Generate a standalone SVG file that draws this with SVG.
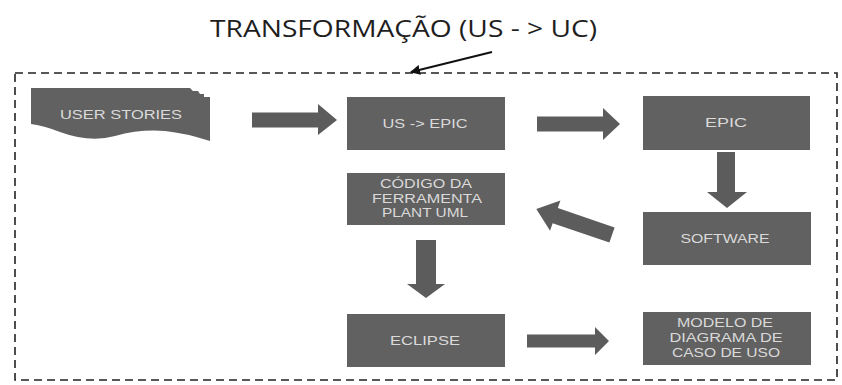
<svg xmlns="http://www.w3.org/2000/svg" width="842" height="385" viewBox="0 0 842 385">
  <style>
    .box { fill: #616161; }
    .blk { fill: #5c5c5c; }
    .lbl { font-family: "Liberation Sans", Arial, sans-serif; font-size: 12px; fill: #dadada; text-anchor: middle; }
    .title { font-family: "Open Sans", "Liberation Sans", sans-serif; font-size: 24px; fill: #1e1e1e; }
  </style>
  <defs>
    <marker id="ah" viewBox="0 0 10 10" refX="9" refY="5" markerWidth="10" markerHeight="10" markerUnits="userSpaceOnUse" orient="auto">
      <path d="M0,0 L10,5 L0,10 Z" fill="#111"/>
    </marker>
  </defs>
  <rect width="842" height="385" fill="#ffffff"/>

  <g id="frame">
    <rect x="15" y="73" width="822" height="307" fill="none" stroke="#222" stroke-width="1.6" stroke-dasharray="8,5"/>
  </g>

  <g id="title">
    <text class="title" x="210" y="37" textLength="387" lengthAdjust="spacingAndGlyphs">TRANSFORMAÇÃO (US - &gt; UC)</text>
    <line x1="492" y1="52" x2="411" y2="72" stroke="#111" stroke-width="2" marker-end="url(#ah)"/>
  </g>

  <g id="user-stories">
    <path class="box" d="M31,88 H190 L193,91 H198 L200,94 H204 V97 H210 V141 Q185,133 165,131 Q140,129 115,136 Q90,143 60,132 Q45,126 31,124 Z"/>
    <text class="lbl" x="121" y="119" textLength="122" lengthAdjust="spacingAndGlyphs">USER STORIES</text>
  </g>

  <g id="us-epic">
    <rect class="box" x="347" y="97" width="158" height="53"/>
    <text class="lbl" x="425" y="128" textLength="85" lengthAdjust="spacingAndGlyphs">US -&gt; EPIC</text>
  </g>

  <g id="epic">
    <rect class="box" x="643" y="96" width="167" height="54"/>
    <text class="lbl" x="726" y="127" textLength="42" lengthAdjust="spacingAndGlyphs">EPIC</text>
  </g>

  <g id="software">
    <rect class="box" x="643" y="212" width="168" height="53"/>
    <text class="lbl" x="725" y="243" textLength="89" lengthAdjust="spacingAndGlyphs">SOFTWARE</text>
  </g>

  <g id="codigo">
    <rect class="box" x="347" y="173" width="158" height="52"/>
    <text class="lbl" x="426" y="188" textLength="92" lengthAdjust="spacingAndGlyphs">CÓDIGO DA</text>
    <text class="lbl" x="427" y="203" textLength="110" lengthAdjust="spacingAndGlyphs">FERRAMENTA</text>
    <text class="lbl" x="425" y="217" textLength="86" lengthAdjust="spacingAndGlyphs">PLANT UML</text>
  </g>

  <g id="eclipse">
    <rect class="box" x="347" y="314" width="158" height="53"/>
    <text class="lbl" x="425" y="345" textLength="70" lengthAdjust="spacingAndGlyphs">ECLIPSE</text>
  </g>

  <g id="modelo">
    <rect class="box" x="643" y="312" width="168" height="53"/>
    <text class="lbl" x="725" y="327" textLength="96" lengthAdjust="spacingAndGlyphs">MODELO DE</text>
    <text class="lbl" x="726" y="342" textLength="113" lengthAdjust="spacingAndGlyphs">DIAGRAMA DE</text>
    <text class="lbl" x="726" y="357" textLength="108" lengthAdjust="spacingAndGlyphs">CASO DE USO</text>
  </g>

  <g id="connectors">
    <polygon class="blk" points="252,112.5 318,112.5 318,104 337,120 318,135 318,127.5 252,127.5"/>
    <polygon class="blk" points="537,116.5 603,116.5 603,108 620,124 603,140 603,131.5 537,131.5"/>
    <polygon class="blk" points="717,152 735,152 735,192 747,192 727,208 707,192 717,192"/>
    <polygon class="blk" points="416,240 436,240 436,284 445,284 426,298 407,284 416,284"/>
    <polygon class="blk" points="527,334.5 595,334.5 595,327 609,341 595,355 595,347.5 527,347.5"/>
    <polygon class="blk" transform="translate(612,235) rotate(198.9)" points="0,-8 60,-8 60,-16 80,0 60,16 60,8 0,8"/>
  </g>
</svg>
